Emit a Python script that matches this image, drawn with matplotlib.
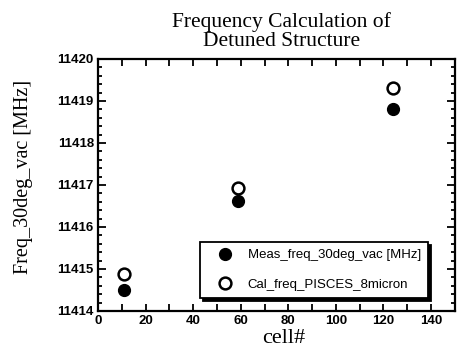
import matplotlib
matplotlib.use("Agg")
import matplotlib.pyplot as plt
from matplotlib.ticker import MultipleLocator

# data
cells = [11, 59, 124]
meas_freq = [11414.5, 11416.62, 11418.82]
cal_freq = [11414.88, 11416.93, 11419.32]

serif = "Liberation Serif"
sans = "Liberation Sans"

fig = plt.figure(figsize=(4.58, 3.53), dpi=100)
ax = fig.add_axes([0.214, 0.119, 0.779, 0.714])

ax.plot(cells, meas_freq, "o", color="black", ms=8.5, ls="none",
        label="Meas_freq_30deg_vac [MHz]")
ax.plot(cells, cal_freq, "o", mfc="white", mec="black", mew=1.8, ms=8.5,
        ls="none", label="Cal_freq_PISCES_8micron")

ax.set_xlim(0, 150)
ax.set_ylim(11414, 11420)
ax.set_xticks([0, 20, 40, 60, 80, 100, 120, 140])
ax.xaxis.set_minor_locator(MultipleLocator(10))
ax.yaxis.set_major_locator(MultipleLocator(1))
ax.yaxis.set_minor_locator(MultipleLocator(0.2))
ax.yaxis.get_major_formatter().set_useOffset(False)

ax.tick_params(which="both", direction="in", top=True, right=True, width=1.3)
ax.tick_params(axis="x", which="both", length=5)
ax.tick_params(axis="y", which="major", length=6)
ax.tick_params(axis="y", which="minor", length=3)
ax.tick_params(which="major", labelsize=9.5, pad=3)
for lab in ax.get_xticklabels() + ax.get_yticklabels():
    lab.set_fontfamily(sans)
    lab.set_fontweight("bold")
for s in ax.spines.values():
    s.set_linewidth(1.6)

ax.set_title("Frequency Calculation of\nDetuned Structure", fontfamily=serif,
             fontsize=15.5, linespacing=1.0, pad=9, x=0.515)
ax.set_xlabel("cell#", fontfamily=serif, fontsize=16)
ax.xaxis.set_label_coords(0.521, -0.072)
ax.set_ylabel("Freq_30deg_vac [MHz]", fontfamily=serif, fontsize=14.5)
ax.yaxis.set_label_coords(-0.182, 0.53)

leg = ax.legend(loc="lower right", bbox_to_anchor=(0.925, 0.052),
                borderaxespad=0, frameon=True,
                fancybox=False, edgecolor="black", framealpha=1,
                shadow={"color": "black", "alpha": 1},
                prop={"family": sans, "size": 9.5}, handletextpad=0.27,
                borderpad=0.55, labelspacing=1.3, handlelength=2.8)
leg.get_frame().set_linewidth(1.3)

fig.savefig("out.png", dpi=100)
